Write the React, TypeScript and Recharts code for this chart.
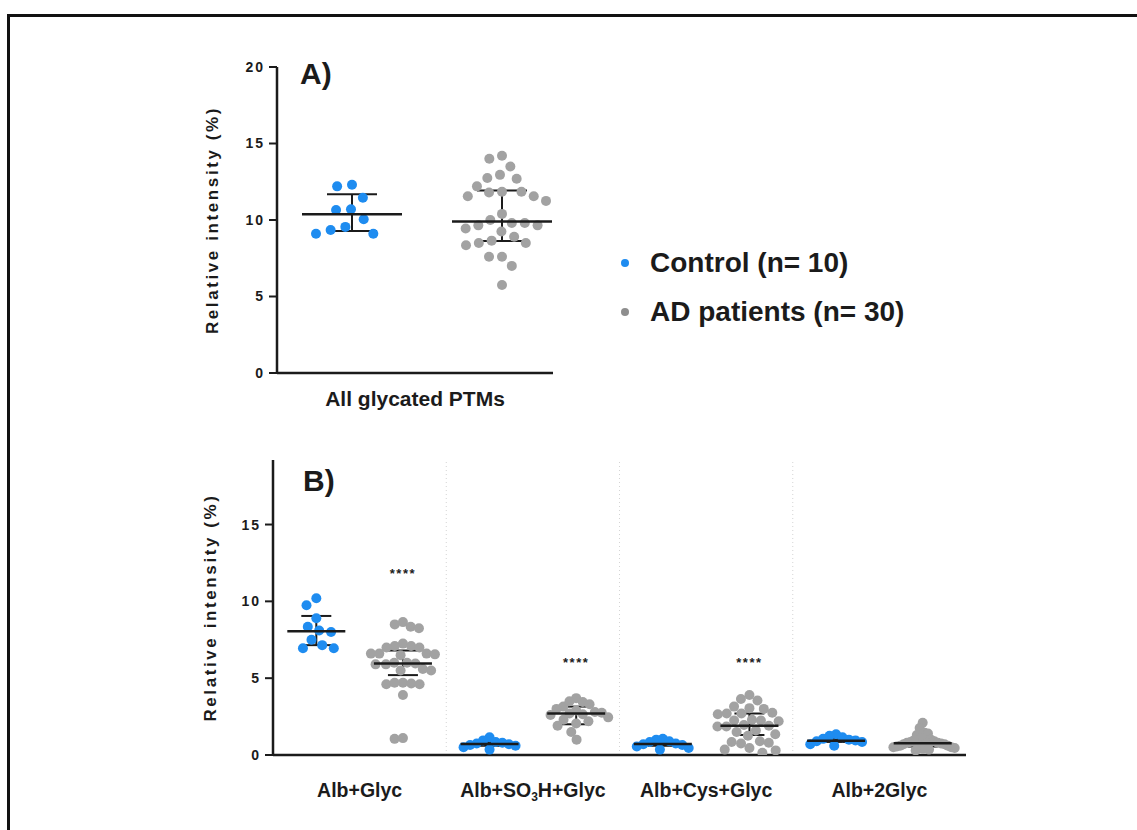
import React from "react";
import { ScatterChart, Scatter, XAxis, YAxis, ErrorBar, ReferenceLine, Legend } from "recharts";

const FONT = '"Liberation Sans", Arial, Helvetica, sans-serif';
const INK = "#1b1b1b";
const BLUE = "#1e8cf0";
const GREY = "#a2a2a2";

/* ---------- panel A: all glycated PTMs ---------- */
const groupLabels = ["Control (n= 10)", "AD patients (n= 30)"];
const captionA = "All glycated PTMs";
const controlA = [12.2, 12.3, 11.45, 10.7, 10.65, 10.05, 9.55, 9.35, 9.1, 9.1];
const adA = [
  14.2, 14.0, 13.5, 12.95, 12.75, 12.7, 12.2, 11.85, 11.85, 11.8, 11.55, 11.55, 11.25, 10.4, 10.0,
  9.8, 9.8, 9.65, 9.65, 9.45, 9.25, 8.9, 8.65, 8.5, 8.5, 8.35, 7.6, 7.6, 7.0, 5.75,
];
const medianA = [10.37, 9.9];
const q1A = [9.28, 8.63];
const q3A = [11.68, 11.92];
const yTicksA = [0, 5, 10, 15, 20];

/* ---------- panel B: single modifications ---------- */
const categoriesB = ["Alb+Glyc", "Alb+SO_3H+Glyc", "Alb+Cys+Glyc", "Alb+2Glyc"];
const controlB = [
  [10.2, 9.75, 8.9, 8.35, 8.0, 8.1, 7.5, 7.15, 6.95, 6.95],
  [1.15, 0.95, 0.85, 0.8, 0.75, 0.7, 0.65, 0.6, 0.5, 0.35],
  [1.05, 1.0, 0.9, 0.85, 0.75, 0.7, 0.65, 0.55, 0.45, 0.35],
  [1.35, 1.25, 1.15, 1.05, 1.0, 0.95, 0.9, 0.85, 0.7, 0.6],
];
const adB = [
  [
    8.65, 8.35, 8.25, 8.5, 7.25, 7.1, 7.0, 7.1, 7.0, 6.6, 6.5, 6.6, 6.55, 6.6, 5.9, 6.0, 5.9, 5.95,
    6.0, 5.5, 5.6, 5.5, 4.7, 4.6, 4.7, 4.65, 4.6, 3.9, 1.05, 1.1,
  ],
  [3.7, 3.5, 3.45, 3.3, 3.15, 3.0, 2.9, 2.8, 2.75, 2.7, 2.65, 2.6, 2.45, 2.3, 2.2, 2.05, 1.9, 1.5, 1.0],
  [
    3.9, 3.65, 3.55, 3.15, 3.05, 3.0, 2.75, 2.7, 2.7, 2.65, 2.3, 2.25, 2.25, 2.2, 1.95, 1.9, 1.85,
    1.85, 1.6, 1.5, 1.35, 1.25, 0.9, 0.85, 0.8, 0.75, 0.45, 0.35, 0.3, 0.15,
  ],
  [
    2.1, 1.75, 1.45, 1.4, 1.3, 1.1, 1.0, 0.95, 0.9, 0.85, 0.8, 0.8, 0.75, 0.75, 0.7, 0.7, 0.65, 0.6,
    0.6, 0.55, 0.5, 0.5, 0.45, 0.4, 0.35, 0.3,
  ],
];
const medianCtrlB = [8.05, 0.72, 0.72, 0.93];
const q1CtrlB = [7.15, 0.6, 0.6, 0.85];
const q3CtrlB = [9.05, 0.85, 0.85, 1.05];
const medianAdB = [5.95, 2.7, 1.9, 0.76];
const q1AdB = [5.2, 2.0, 1.3, 0.55];
const q3AdB = [6.8, 3.15, 2.7, 1.0];
const sigAdB = [11.8, 6.0, 6.0, null];
const sigText = "****";
const yTicksB = [0, 5, 10, 15];

/* ---------- layout ---------- */
const W = 1137;
const boxA = { left: 277, right: 553, top: 67, bottom: 373 };
const xMaxA = 1.84;
const yMaxA = 20;
const boxB = { left: 273, right: 966, top: 460, bottom: 755 };
const xMaxB = 8;
const yMaxB = 19.2;
const B_TOP = 430;

// beeswarm: place each dot at the smallest offset that doesn't collide,
// then squeeze the group if it gets wider than maxHalf px (dense groups overlap, like Prism)
function swarm(values: number[], pxX: number, pxY: number, gap: number, maxHalf: number) {
  const order = values.map((_, i) => i).sort((a, b) => values[b] - values[a]);
  const placed: { x: number; y: number }[] = [];
  const px: number[] = new Array(values.length).fill(0);
  for (const i of order) {
    const y = values[i] * pxY;
    const near = placed.filter((p) => Math.abs(p.y - y) < gap);
    const cands = [0];
    near.forEach((p) => {
      const dx = Math.sqrt(gap * gap - (p.y - y) ** 2);
      cands.push(p.x + dx, p.x - dx);
    });
    const ok = cands
      .filter((c) => near.every((p) => Math.hypot(p.x - c, p.y - y) >= gap - 1e-6))
      .sort((a, b) => Math.abs(a) - Math.abs(b) || a - b);
    const x = ok[0] ?? 0;
    placed.push({ x, y });
    px[i] = x;
  }
  const widest = Math.max(...px.map(Math.abs), 1e-9);
  const k = Math.min(1, maxHalf / widest);
  return px.map((x) => (x * k) / pxX);
}

function buildPoints(values: number[], center: number, pxX: number, pxY: number, gap: number, maxHalf: number) {
  const off = swarm(values, pxX, pxY, gap, maxHalf);
  return values.map((v, i) => ({ x: center + off[i], y: v }));
}

const pxXA = (boxA.right - boxA.left) / xMaxA;
const pxYA = (boxA.bottom - boxA.top) / yMaxA;
const pxXB = (boxB.right - boxB.left) / xMaxB;
const pxYB = (boxB.bottom - boxB.top) / yMaxB;

const ctrlPtsA = buildPoints(controlA, 0.5, pxXA, pxYA, 19, 36);
const adPtsA = buildPoints(adA, 1.5, pxXA, pxYA, 14, 44);
const summaryA = medianA.map((m, i) => ({ x: i + 0.5, y: m, err: [m - q1A[i], q3A[i] - m] }));

const ctrlPtsB = controlB.flatMap((vals, i) => buildPoints(vals, 2 * i + 0.5, pxXB, pxYB, 12, 26));
const adPtsB = adB.flatMap((vals, i) => buildPoints(vals, 2 * i + 1.5, pxXB, pxYB, 12, 32));
const summaryCtrlB = medianCtrlB.map((m, i) => ({ x: 2 * i + 0.5, y: m, err: [m - q1CtrlB[i], q3CtrlB[i] - m] }));
const summaryAdB = medianAdB.map((m, i) => ({ x: 2 * i + 1.5, y: m, err: [m - q1AdB[i], q3AdB[i] - m] }));
const sigPtsB = sigAdB
  .map((v, i) => (v == null ? null : { x: 2 * i + 1.5, y: v }))
  .filter(Boolean) as { x: number; y: number }[];

const dot = (fill: string, r = 5) => (p: any) => <circle cx={p.cx} cy={p.cy} r={r} fill={fill} />;
const medianLine = (half: number) => (p: any) =>
  <line x1={p.cx - half} x2={p.cx + half} y1={p.cy} y2={p.cy} stroke={INK} strokeWidth={2.5} />;
const starShape = (p: any) => (
  <text x={p.cx} y={p.cy} textAnchor="middle" dominantBaseline="central" fontFamily={FONT}
    fontSize={13} fontWeight="bold" letterSpacing={1.5} fill={INK}>{sigText}</text>
);

const tickStyle = { fill: INK, fontSize: 14, fontWeight: "bold", fontFamily: FONT, letterSpacing: 2 };
const axisStroke = { stroke: INK, strokeWidth: 2.5 };

function YTitle(props: any) {
  const vb = props.viewBox || { x: 0, y: 0, width: 0, height: 0 };
  const cx = vb.x + vb.width - props.gap;
  const cy = vb.y + vb.height / 2;
  return (
    <text x={cx} y={cy} transform={`rotate(-90 ${cx} ${cy})`} textAnchor="middle" dominantBaseline="central"
      fontFamily={FONT} fontSize={17} fontWeight="bold" letterSpacing={2.6} fill={INK}>
      Relative intensity (%)
    </text>
  );
}

function XCaption(props: any) {
  const vb = props.viewBox || { x: 0, y: 0, width: 0, height: 0 };
  return (
    <text x={vb.x + vb.width / 2} y={vb.y + 33} textAnchor="middle" fontFamily={FONT}
      fontSize={21} fontWeight="bold" fill={INK}>
      {captionA}
    </text>
  );
}

function CategoryTick(props: any) {
  const { x, y, payload } = props;
  const label = categoriesB[Math.round((payload.value - 1) / 2)] ?? "";
  const parts = label.split(/_(\d)/);
  return (
    <text x={x} y={y + 34} textAnchor="middle" fontFamily={FONT} fontSize={19.5} fontWeight="bold" fill={INK}>
      {parts.map((s, i) =>
        i % 2 === 1 ? (
          <tspan key={i} fontSize={12} dy={4}>{s}</tspan>
        ) : (
          <tspan key={i} dy={i > 0 ? -4 : 0}>{s}</tspan>
        )
      )}
    </text>
  );
}

function GroupLegend() {
  const colors = [BLUE, "#8e8e8e"];
  return (
    <div style={{ fontFamily: FONT, fontWeight: "bold", fontSize: 28, color: INK }}>
      {groupLabels.map((g, i) => (
        <div key={g} style={{ display: "flex", alignItems: "center", height: 36, marginBottom: 13 }}>
          <span style={{ width: 8, height: 8, borderRadius: 4, background: colors[i], marginRight: 21 }} />
          <span style={{ whiteSpace: "nowrap" }}>{g}</span>
        </div>
      ))}
    </div>
  );
}

const panelTag: React.CSSProperties = {
  position: "absolute", fontFamily: FONT, fontWeight: "bold", fontSize: 30, lineHeight: 1, color: INK,
};

export default function App() {
  const hA = 420;
  const xAxisHA = 30;
  const hB = 400;
  const xAxisHB = 50;
  return (
    <div style={{ position: "absolute", left: 0, top: 0, width: W, height: 830, overflow: "hidden", background: "#fff" }}>
      <div style={{ position: "absolute", left: 7, top: 14, width: 1300, height: 1000,
        borderTop: "3px solid #111", borderLeft: "3px solid #111" }} />

      <div style={{ position: "absolute", left: 0, top: 0 }}>
        <ScatterChart width={W} height={hA}
          margin={{ top: boxA.top, right: W - boxA.right, bottom: hA - boxA.bottom - xAxisHA, left: boxA.left - 60 }}>
          <XAxis type="number" dataKey="x" domain={[0, xMaxA]} allowDataOverflow ticks={[0.5, 1.5]} tick={false}
            tickSize={8} height={xAxisHA} axisLine={axisStroke} tickLine={{ stroke: INK, strokeWidth: 2 }}
            label={<XCaption />} />
          <YAxis type="number" dataKey="y" domain={[0, yMaxA]} allowDataOverflow ticks={yTicksA} width={60}
            tickSize={8} tickMargin={4} axisLine={axisStroke} tickLine={{ stroke: INK, strokeWidth: 2 }}
            tick={tickStyle} label={<YTitle gap={65} />} />
          <Scatter data={ctrlPtsA} isAnimationActive={false} shape={dot(BLUE)} />
          <Scatter data={adPtsA} isAnimationActive={false} shape={dot(GREY)} />
          <Scatter data={summaryA} isAnimationActive={false} shape={medianLine(50)}>
            <ErrorBar dataKey="err" direction="y" width={25} stroke={INK} strokeWidth={2} isAnimationActive={false} />
          </Scatter>
          <Legend layout="horizontal" verticalAlign="middle" align="center" content={() => <GroupLegend />}
            wrapperStyle={{ left: 621, top: 245, width: 360 }} />
        </ScatterChart>
      </div>

      <div style={{ position: "absolute", left: 0, top: B_TOP }}>
        <ScatterChart width={W} height={hB}
          margin={{ top: boxB.top - B_TOP, right: W - boxB.right, bottom: hB - (boxB.bottom - B_TOP) - xAxisHB, left: boxB.left - 60 }}>
          <XAxis type="number" dataKey="x" domain={[0, xMaxB]} allowDataOverflow ticks={[1, 3, 5, 7]} tickLine={false}
            height={xAxisHB} axisLine={axisStroke} tick={(p: any) => <CategoryTick {...p} />} />
          <YAxis type="number" dataKey="y" domain={[0, yMaxB]} allowDataOverflow ticks={yTicksB} width={60}
            tickSize={8} tickMargin={4} axisLine={axisStroke} tickLine={{ stroke: INK, strokeWidth: 2 }}
            tick={tickStyle} label={<YTitle gap={63} />} />
          {[2, 4, 6].map((x) => (
            <ReferenceLine key={x} x={x} stroke="#d4d4d4" strokeDasharray="1 3" />
          ))}
          <Scatter data={ctrlPtsB} isAnimationActive={false} shape={dot(BLUE)} />
          <Scatter data={adPtsB} isAnimationActive={false} shape={dot(GREY)} />
          <Scatter data={summaryCtrlB} isAnimationActive={false} shape={medianLine(29)}>
            <ErrorBar dataKey="err" direction="y" width={15} stroke={INK} strokeWidth={2} isAnimationActive={false} />
          </Scatter>
          <Scatter data={summaryAdB} isAnimationActive={false} shape={medianLine(29)}>
            <ErrorBar dataKey="err" direction="y" width={15} stroke={INK} strokeWidth={2} isAnimationActive={false} />
          </Scatter>
          <Scatter data={sigPtsB} isAnimationActive={false} shape={starShape} />
        </ScatterChart>
      </div>

      <div style={{ ...panelTag, left: 300, top: 59 }}>A)</div>
      <div style={{ ...panelTag, left: 303, top: 466 }}>B)</div>
    </div>
  );
}
